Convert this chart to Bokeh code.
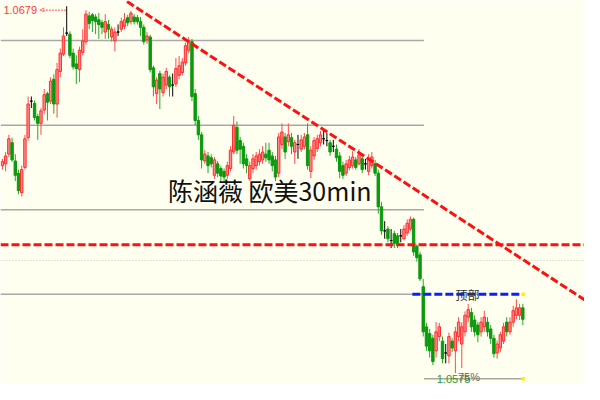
from bokeh.plotting import figure
from bokeh.models import ColumnDataSource, Range1d
from bokeh.core.properties import value
from bokeh.embed import file_html
from bokeh.resources import INLINE

# ---- EURUSD 30min candles ----
opens = [
    1.06345, 1.06350, 1.06377, 1.06409, 1.06358, 1.06324, 1.06270, 1.06340, 1.06423, 1.06525,
    1.06519, 1.06482, 1.06463, 1.06500, 1.06546, 1.06525, 1.06586, 1.06517, 1.06608, 1.06656,
    1.06715, 1.06712, 1.06659, 1.06629, 1.06613, 1.06661, 1.06691, 1.06763, 1.06766, 1.06760,
    1.06752, 1.06744, 1.06718, 1.06739, 1.06704, 1.06693, 1.06718, 1.06726, 1.06734, 1.06758,
    1.06747, 1.06760, 1.06758, 1.06747, 1.06731, 1.06696, 1.06704, 1.06618, 1.06546, 1.06602,
    1.06549, 1.06570, 1.06592, 1.06570, 1.06573, 1.06597, 1.06605, 1.06632, 1.06667, 1.06691,
    1.06546, 1.06471, 1.06431, 1.06358, 1.06372, 1.06367, 1.06318, 1.06350, 1.06337, 1.06329,
    1.06318, 1.06337, 1.06383, 1.06452, 1.06415, 1.06399, 1.06364, 1.06308, 1.06337, 1.06345,
    1.06356, 1.06361, 1.06377, 1.06388, 1.06372, 1.06361, 1.06324, 1.06404, 1.06425, 1.06412,
    1.06423, 1.06383, 1.06404, 1.06391, 1.06399, 1.06431, 1.06329, 1.06372, 1.06393, 1.06409,
    1.06420, 1.06415, 1.06409, 1.06399, 1.06391, 1.06372, 1.06345, 1.06324, 1.06340, 1.06345,
    1.06361, 1.06350, 1.06364, 1.06350, 1.06329, 1.06345, 1.06350, 1.06324, 1.06230, 1.06163,
    1.06168, 1.06136, 1.06155, 1.06149, 1.06149, 1.06141, 1.06157, 1.06168, 1.06195, 1.06120,
    1.06096, 1.06007, 1.05895, 1.05876, 1.05863, 1.05828, 1.05868, 1.05855, 1.05822, 1.05814,
    1.05855, 1.05828, 1.05868, 1.05847, 1.05881, 1.05922, 1.05935, 1.05914, 1.05900, 1.05881,
    1.05895, 1.05908, 1.05889, 1.05863, 1.05822, 1.05836, 1.05855, 1.05908, 1.05881, 1.05908,
    1.05927, 1.05927, 1.05948,
]
highs = [
    1.06364, 1.06383, 1.06431, 1.06423, 1.06377, 1.06334, 1.06345, 1.06431, 1.06538, 1.06538,
    1.06527, 1.06490, 1.06506, 1.06559, 1.06551, 1.06592, 1.06600, 1.06632, 1.06672, 1.06731,
    1.06790, 1.06720, 1.06672, 1.06653, 1.06677, 1.06726, 1.06779, 1.06774, 1.06771, 1.06768,
    1.06771, 1.06752, 1.06768, 1.06752, 1.06734, 1.06731, 1.06739, 1.06758, 1.06771, 1.06766,
    1.06777, 1.06768, 1.06766, 1.06760, 1.06739, 1.06718, 1.06710, 1.06624, 1.06592, 1.06610,
    1.06602, 1.06618, 1.06597, 1.06602, 1.06645, 1.06651, 1.06645, 1.06688, 1.06704, 1.06699,
    1.06559, 1.06484, 1.06439, 1.06388, 1.06383, 1.06377, 1.06369, 1.06358, 1.06345, 1.06337,
    1.06356, 1.06399, 1.06484, 1.06468, 1.06425, 1.06409, 1.06377, 1.06356, 1.06377, 1.06383,
    1.06391, 1.06399, 1.06409, 1.06409, 1.06383, 1.06372, 1.06436, 1.06463, 1.06436, 1.06463,
    1.06436, 1.06417, 1.06431, 1.06431, 1.06436, 1.06463, 1.06399, 1.06425, 1.06431, 1.06442,
    1.06447, 1.06436, 1.06417, 1.06417, 1.06404, 1.06383, 1.06356, 1.06361, 1.06372, 1.06385,
    1.06369, 1.06391, 1.06372, 1.06364, 1.06377, 1.06383, 1.06361, 1.06334, 1.06243, 1.06190,
    1.06176, 1.06168, 1.06163, 1.06157, 1.06168, 1.06179, 1.06195, 1.06203, 1.06200, 1.06125,
    1.06104, 1.06029, 1.05906, 1.05889, 1.05873, 1.05908, 1.05906, 1.05868, 1.05847, 1.05879,
    1.05863, 1.05895, 1.05922, 1.05908, 1.05938, 1.05959, 1.05948, 1.05927, 1.05908, 1.05922,
    1.05940, 1.05922, 1.05900, 1.05873, 1.05857, 1.05881, 1.05906, 1.05922, 1.05922, 1.05954,
    1.05972, 1.05959, 1.05959,
]
lows = [
    1.06334, 1.06329, 1.06369, 1.06356, 1.06302, 1.06265, 1.06259, 1.06334, 1.06415, 1.06506,
    1.06471, 1.06417, 1.06431, 1.06490, 1.06471, 1.06517, 1.06490, 1.06479, 1.06592, 1.06651,
    1.06707, 1.06645, 1.06613, 1.06573, 1.06578, 1.06653, 1.06683, 1.06726, 1.06718, 1.06712,
    1.06699, 1.06712, 1.06699, 1.06699, 1.06691, 1.06664, 1.06707, 1.06718, 1.06726, 1.06734,
    1.06739, 1.06739, 1.06739, 1.06707, 1.06683, 1.06685, 1.06605, 1.06538, 1.06517, 1.06503,
    1.06538, 1.06559, 1.06538, 1.06538, 1.06565, 1.06586, 1.06597, 1.06624, 1.06659, 1.06525,
    1.06458, 1.06417, 1.06337, 1.06350, 1.06324, 1.06340, 1.06308, 1.06313, 1.06297, 1.06302,
    1.06308, 1.06329, 1.06377, 1.06377, 1.06350, 1.06337, 1.06324, 1.06302, 1.06324, 1.06334,
    1.06345, 1.06350, 1.06356, 1.06350, 1.06329, 1.06302, 1.06313, 1.06391, 1.06364, 1.06399,
    1.06377, 1.06350, 1.06364, 1.06383, 1.06391, 1.06334, 1.06310, 1.06361, 1.06383, 1.06399,
    1.06404, 1.06399, 1.06372, 1.06383, 1.06356, 1.06310, 1.06308, 1.06316, 1.06332, 1.06337,
    1.06334, 1.06345, 1.06324, 1.06334, 1.06318, 1.06337, 1.06316, 1.06211, 1.06152, 1.06141,
    1.06131, 1.06115, 1.06115, 1.06115, 1.06131, 1.06136, 1.06149, 1.06163, 1.06093, 1.06077,
    1.06023, 1.05868, 1.05828, 1.05809, 1.05788, 1.05809, 1.05855, 1.05793, 1.05793, 1.05793,
    1.05825, 1.05766, 1.05855, 1.05780, 1.05868, 1.05908, 1.05881, 1.05868, 1.05852, 1.05868,
    1.05881, 1.05868, 1.05847, 1.05809, 1.05806, 1.05825, 1.05847, 1.05868, 1.05873, 1.05895,
    1.05916, 1.05914, 1.05900,
]
closes = [
    1.06356, 1.06372, 1.06420, 1.06361, 1.06318, 1.06275, 1.06334, 1.06420, 1.06517, 1.06525,
    1.06479, 1.06463, 1.06498, 1.06543, 1.06522, 1.06581, 1.06517, 1.06613, 1.06659, 1.06707,
    1.06715, 1.06653, 1.06621, 1.06616, 1.06667, 1.06693, 1.06768, 1.06742, 1.06750, 1.06747,
    1.06739, 1.06731, 1.06747, 1.06726, 1.06726, 1.06718, 1.06718, 1.06747, 1.06752, 1.06744,
    1.06771, 1.06747, 1.06747, 1.06731, 1.06691, 1.06707, 1.06613, 1.06565, 1.06584, 1.06559,
    1.06592, 1.06608, 1.06565, 1.06570, 1.06616, 1.06624, 1.06634, 1.06680, 1.06691, 1.06538,
    1.06471, 1.06431, 1.06361, 1.06377, 1.06345, 1.06350, 1.06361, 1.06324, 1.06316, 1.06313,
    1.06345, 1.06388, 1.06458, 1.06388, 1.06391, 1.06350, 1.06345, 1.06345, 1.06364, 1.06372,
    1.06377, 1.06383, 1.06367, 1.06361, 1.06345, 1.06313, 1.06425, 1.06439, 1.06383, 1.06431,
    1.06399, 1.06409, 1.06404, 1.06417, 1.06425, 1.06345, 1.06388, 1.06415, 1.06420, 1.06431,
    1.06420, 1.06415, 1.06383, 1.06399, 1.06367, 1.06329, 1.06318, 1.06350, 1.06361, 1.06369,
    1.06340, 1.06375, 1.06334, 1.06350, 1.06364, 1.06369, 1.06324, 1.06230, 1.06163, 1.06163,
    1.06141, 1.06136, 1.06128, 1.06123, 1.06149, 1.06168, 1.06184, 1.06195, 1.06104, 1.06088,
    1.06029, 1.05881, 1.05841, 1.05828, 1.05798, 1.05881, 1.05895, 1.05806, 1.05822, 1.05868,
    1.05836, 1.05881, 1.05908, 1.05895, 1.05927, 1.05943, 1.05895, 1.05881, 1.05873, 1.05908,
    1.05922, 1.05881, 1.05863, 1.05820, 1.05847, 1.05873, 1.05895, 1.05881, 1.05908, 1.05940,
    1.05948, 1.05948, 1.05916,
]

# ---- drawing objects (levels in price, positions in bar index) ----
fib_levels = [1.06694, 1.06458, 1.06222, 1.05986]
fib_bottom_level = 1.05750
fib_end_bar = 131.2
fib_bottom_end_bar = 162.1
support_level = 1.06124
dotted_level = 1.06080
top_level = 1.05986
top_start_bar, top_end_bar = 127.6, 161.5
trend_bars = [38.8, 187.3]
trend_prices = [1.06803, 1.05935]
high_label = "1.0679"
high_label_price = 1.06779
high_bar = 20
title_text = "陈涵薇 欧美30min"
title_bar, title_price = 51.5, 1.06278
top_text = "顶部"
top_text_bar = 144.8
bottom_label = "1.0575"
bottom_pct = "75%"
bottom_label_bar, bottom_pct_bar, bottom_label_price = 135.2, 141.8, 1.05737

X0, X1 = -0.606, 181.2
Y0, Y1 = 1.05734, 1.06806

n = len(opens)
idx = list(range(n))
tops, bots, fills, lines, wicks = [], [], [], [], []
for o, c in zip(opens, closes):
    tops.append(max(o, c))
    bots.append(min(o, c))
    if c > o:
        fills.append("#ff8a8a"); lines.append("#ff2d2d"); wicks.append("#ff4a4a")
    elif c < o:
        fills.append("#0c990c"); lines.append("#0c990c"); wicks.append("#2aa52a")
    else:
        fills.append("#000000"); lines.append("#000000"); wicks.append("#000000")

src = ColumnDataSource(dict(x=idx, h=highs, l=lows, top=tops, bot=bots,
                            fill=fills, line=lines, wick=wicks))

bg = "#fffff0"
p = figure(width=584, height=384, output_backend="svg", toolbar_location=None,
           x_range=Range1d(X0, X1), y_range=Range1d(Y0, Y1),
           min_border=0, background_fill_color=bg, border_fill_color=bg,
           outline_line_color=None)
p.xaxis.visible = False
p.yaxis.visible = False
p.xgrid.grid_line_color = None
p.ygrid.grid_line_color = None

# fib / grey levels
p.segment(x0=[X0] * len(fib_levels), y0=fib_levels, x1=[fib_end_bar] * len(fib_levels),
          y1=fib_levels, line_color="#a8a8a8", line_width=1.5)
p.segment(x0=[fib_end_bar], y0=[fib_bottom_level], x1=[fib_bottom_end_bar],
          y1=[fib_bottom_level], line_color="#a8a8a8", line_width=1.5)
p.segment(x0=[X0], y0=[dotted_level], x1=[X1], y1=[dotted_level],
          line_color="#c8c8c8", line_width=1, line_dash="1 2")

# candles
p.segment(x0="x", y0="l", x1="x", y1="h", line_color="wick", line_width=1, source=src)
p.vbar(x="x", width=0.75, top="top", bottom="bot", fill_color="fill",
       line_color="line", line_width=1, source=src)

# red dashed support + trendline
p.segment(x0=[X0], y0=[support_level], x1=[X1], y1=[support_level],
          line_color="#ff1010", line_width=3, line_dash="8 3")
p.line(x=trend_bars, y=trend_prices, line_color="#ff1010", line_width=3, line_dash="8 3")

# blue "顶部" line
p.segment(x0=[top_start_bar], y0=[top_level], x1=[top_end_bar], y1=[top_level],
          line_color="#0a1eff", line_width=3, line_dash="8 3")
p.scatter(x=[fib_bottom_end_bar, fib_bottom_end_bar], y=[top_level, fib_bottom_level],
          marker="square", size=2.5, color="#ffee00")
p.text(x=[top_text_bar], y=[top_level], text=[top_text], text_font=value("Noto Sans CJK SC"),
       text_font_size="12px", text_color="#333333", text_align="center", text_baseline="middle")

# high label with arrow
p.text(x=[X0 + 0.9], y=[high_label_price], text=[high_label], text_font=value("Liberation Sans"),
       text_font_size="11px", text_color="#ff3b3b", text_align="left", text_baseline="middle")
p.segment(x0=[12.6], y0=[high_label_price], x1=[high_bar], y1=[high_label_price],
          line_color="#ff5050", line_width=1, line_dash="2 1")
p.text(x=[11.6], y=[high_label_price], text=["<"], text_font=value("Liberation Sans"),
       text_font_size="9px", text_color="#ff5050", text_align="left", text_baseline="middle")

# bottom fib label
p.text(x=[bottom_label_bar], y=[bottom_label_price], text=[bottom_label],
       text_font=value("Liberation Sans"), text_font_size="11px", text_color="#2a9a2a",
       text_align="left", text_baseline="bottom")
p.text(x=[bottom_pct_bar], y=[bottom_label_price], text=[bottom_pct],
       text_font=value("Liberation Sans"), text_font_size="11px", text_color="#666666",
       text_align="left", text_baseline="bottom")

# watermark title
p.text(x=[title_bar], y=[title_price], text=[title_text], text_font=value("Noto Sans CJK SC"),
       text_font_size="25px", text_color="#111111", text_align="left", text_baseline="middle")

open("out.html", "w").write(file_html(p, INLINE))
